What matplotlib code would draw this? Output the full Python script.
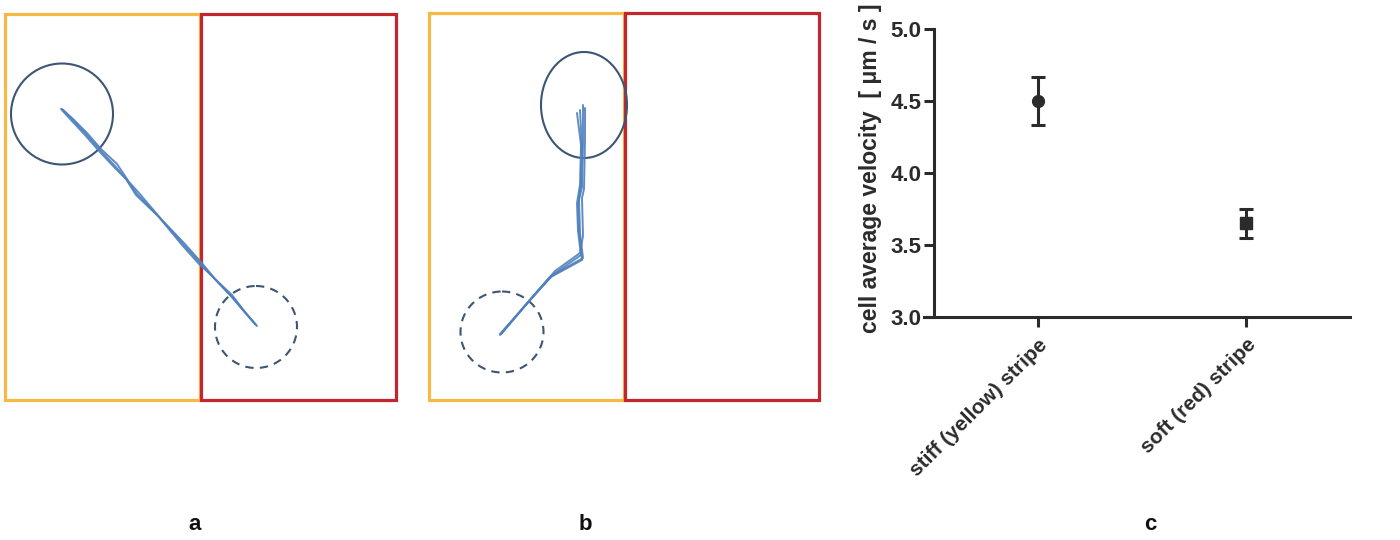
import matplotlib
matplotlib.use("Agg")
import matplotlib.pyplot as plt
from matplotlib.patches import Rectangle, Ellipse

# ---------------- data ----------------
categories = ["stiff (yellow) stripe", "soft (red) stripe"]
velocity_mean = [4.50, 3.65]
velocity_err = [0.17, 0.10]
markers = ["o", "s"]
yticks = [3.0, 3.5, 4.0, 4.5, 5.0]

# panel a tracks (pixel coordinates of the drawing)
track_a1_x = [62, 72, 86, 100, 115, 127, 137, 160, 183, 200, 213, 231, 243, 256]
track_a1_y = [109, 119, 134, 150, 166, 180, 194, 218, 244, 263, 277, 296, 310, 325]
track_a2_x = [63, 73, 87, 101, 117, 129, 139, 161, 184, 201, 215, 232, 245, 255]
track_a2_y = [110, 119, 133, 149, 164, 182, 193, 219, 243, 262, 279, 295, 312, 324]
track_a3_x = [61, 71, 85, 99, 114, 126, 136, 159, 182, 199, 212, 232, 242, 257]
track_a3_y = [109, 120, 135, 151, 167, 179, 195, 217, 245, 264, 276, 297, 309, 326]

# panel b tracks
track_b1_x = [583, 583, 582, 579, 580, 583, 553, 530, 500]
track_b1_y = [105, 143, 187, 200, 233, 258, 275, 300, 335]
track_b2_x = [577, 581, 580, 577, 578, 581, 551, 528, 501]
track_b2_y = [113, 145, 185, 203, 231, 255, 276, 302, 334]
track_b3_x = [585, 585, 584, 582, 583, 580, 555, 532, 500]
track_b3_y = [108, 141, 189, 198, 236, 253, 271, 298, 334]
track_b4_x = [580, 582, 581, 578, 579, 582, 549, 529, 502]
track_b4_y = [110, 147, 184, 205, 229, 260, 278, 301, 333]

panel_labels = ["a", "b", "c"]

# ---------------- styles ----------------
YELLOW = "#F6B945"
RED = "#C1272D"
BLUE = "#4F80BD"
CIRC = "#3C5673"
DARK = "#2b2b2b"
plt.rcParams['font.family'] = ['Liberation Sans', 'DejaVu Sans']

fig = plt.figure(figsize=(14, 5.4), dpi=100)

ax0 = fig.add_axes([0, 0, 840 / 1400, 1])
ax0.set_xlim(0, 840)
ax0.set_ylim(540, 0)
ax0.axis("off")

lw_rect = 2.3
# panel a rectangles
ax0.add_patch(Rectangle((5, 14), 195, 386, fill=False, ec=YELLOW, lw=lw_rect))
ax0.add_patch(Rectangle((201, 14), 195, 386, fill=False, ec=RED, lw=lw_rect))
# panel b rectangles
ax0.add_patch(Rectangle((429, 13), 195, 387, fill=False, ec=YELLOW, lw=lw_rect))
ax0.add_patch(Rectangle((625, 13), 194, 387, fill=False, ec=RED, lw=lw_rect))

# circles
ax0.add_patch(Ellipse((62, 114), 102, 101, fill=False, ec=CIRC, lw=1.5))
ax0.add_patch(Ellipse((256, 327), 82, 82, fill=False, ec=CIRC, lw=1.5, ls=(0, (4, 3))))
ax0.add_patch(Ellipse((584, 105), 86, 106, fill=False, ec=CIRC, lw=1.5))
ax0.add_patch(Ellipse((502, 332), 83, 81, fill=False, ec=CIRC, lw=1.5, ls=(0, (4, 3))))

for xs, ys in [(track_a1_x, track_a1_y), (track_a2_x, track_a2_y), (track_a3_x, track_a3_y),
               (track_b1_x, track_b1_y), (track_b2_x, track_b2_y), (track_b3_x, track_b3_y),
               (track_b4_x, track_b4_y)]:
    ax0.plot(xs, ys, color=BLUE, lw=1.4, solid_capstyle="round", solid_joinstyle="round",
             alpha=0.9)

# ---------------- panel c ----------------
axc = fig.add_axes([934 / 1400, 1 - 317 / 540, (1350 - 934) / 1400, (317 - 29) / 540])
xpos = list(range(len(categories)))
for i in xpos:
    axc.errorbar([i], [velocity_mean[i]], yerr=[velocity_err[i]], fmt=markers[i],
                 color=DARK, ms=8.5, capsize=5, elinewidth=2.2, capthick=2.2)
axc.set_xlim(-0.5, 1.5)
axc.set_ylim(3.0, 5.0)
axc.set_yticks(yticks)
axc.set_yticklabels([f"{v:.1f}" for v in yticks], fontsize=16, fontweight="bold", color=DARK)
axc.set_xticks(xpos)
axc.set_xticklabels(categories, rotation=45, ha="right", rotation_mode="anchor",
                    fontsize=15, fontweight="bold", color=DARK)
axc.set_ylabel("cell average velocity  [ μm / s ]", fontsize=16.5, fontweight="bold",
               color=DARK)
axc.yaxis.set_label_coords(-0.125, 0.515)
for s in ["top", "right"]:
    axc.spines[s].set_visible(False)
for s in ["left", "bottom"]:
    axc.spines[s].set_linewidth(2.2)
    axc.spines[s].set_color(DARK)
axc.tick_params(axis="both", width=2.2, length=7, color=DARK, pad=2)
axc.tick_params(axis="x", pad=6)
axc.spines["bottom"].set_bounds(-0.55, 1.5)
axc.patch.set_alpha(0)

# panel labels
for lbl, px in zip(panel_labels, [195, 585, 1150]):
    fig.text(px / 1400, 1 - 524 / 540, lbl, ha="center", va="center",
             fontsize=16, fontweight="bold", color="#111111")

fig.savefig("out.png", dpi=100)
